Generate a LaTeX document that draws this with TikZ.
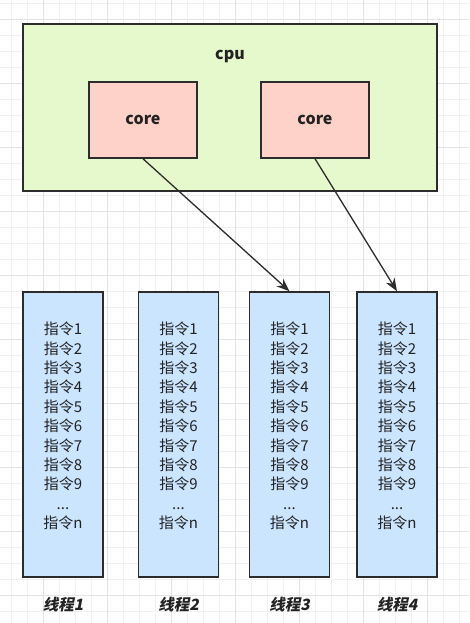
\documentclass[tikz,border=0pt]{standalone}
\usepackage{fontspec}
\setmainfont{Noto Sans CJK SC}
\newfontfamily\slantfont{Noto Sans CJK SC}[FakeSlant=0.2]
\usetikzlibrary{positioning,arrows.meta}
\definecolor{cpugreen}{HTML}{E6F9CD}
\definecolor{corepink}{HTML}{FFD2C9}
\definecolor{threadblue}{HTML}{CCE5FF}
\definecolor{edgegray}{HTML}{2C2C2C}
\definecolor{textgray}{HTML}{222222}
\definecolor{gridminor}{HTML}{F1F1F1}
\definecolor{gridmajor}{HTML}{E3E3E3}

\begin{document}
\begin{tikzpicture}[x=1pt,y=-1pt,
    box/.style={draw=edgegray, line width=1.5pt, inner sep=0pt},
    cpubox/.style={box, fill=cpugreen, minimum width=414pt, minimum height=167pt},
    corebox/.style={box, fill=corepink, minimum width=108pt, minimum height=76pt,
        font=\fontsize{16}{19}\selectfont\bfseries, text=textgray},
    thread/.style={box, fill=threadblue, minimum width=80pt, minimum height=285pt},
    steps/.style={align=center, inner sep=0pt, font=\fontsize{15}{19.4}\selectfont, text=textgray},
    threadlabel/.style={font=\fontsize{15.5}{18}\slantfont\bfseries, text=textgray},
    arr/.style={-{Stealth[length=13pt,width=10pt]}, line width=1.3pt, draw=edgegray}]
    \useasboundingbox (0,0) rectangle (469,623);

    % Background grid
    \foreach \x in {11,27,...,459} \draw[gridminor, line width=0.6pt] (\x,0) -- (\x,623);
    \foreach \y in {3,19,...,619} \draw[gridminor, line width=0.6pt] (0,\y) -- (469,\y);
    \foreach \x in {43,107,...,427} \draw[gridmajor, line width=0.8pt] (\x,0) -- (\x,623);
    \foreach \y in {19,83,...,595} \draw[gridmajor, line width=0.8pt] (0,\y) -- (469,\y);

    % CPU and cores
    \node[cpubox] (cpu) at (230,107.5) {};
    \node[font=\fontsize{16}{19}\selectfont\bfseries, text=textgray] (cpulabel) at (230,56) {cpu};
    \node[corebox] (core1) at (143,120) {core};
    \node[corebox] (core2) at (315,120) {core};

    % Threads
    \foreach \n/\x in {1/63, 2/178.5, 3/289.5, 4/397} {
        \node[thread] (th\n) at (\x,434.5) {};
        \node[steps] (ins\n) at (\x,426) {指令1\\指令2\\指令3\\指令4\\指令5\\指令6\\指令7\\指令8\\指令9\\...\\指令n};
        \node[threadlabel] (lab\n) at (\x,605) {线程\n};
    }

    % Cores to threads
    \draw[arr] (core1.south) -- (th3.north);
    \draw[arr] (core2.south) -- (th4.north);
\end{tikzpicture}
\end{document}
